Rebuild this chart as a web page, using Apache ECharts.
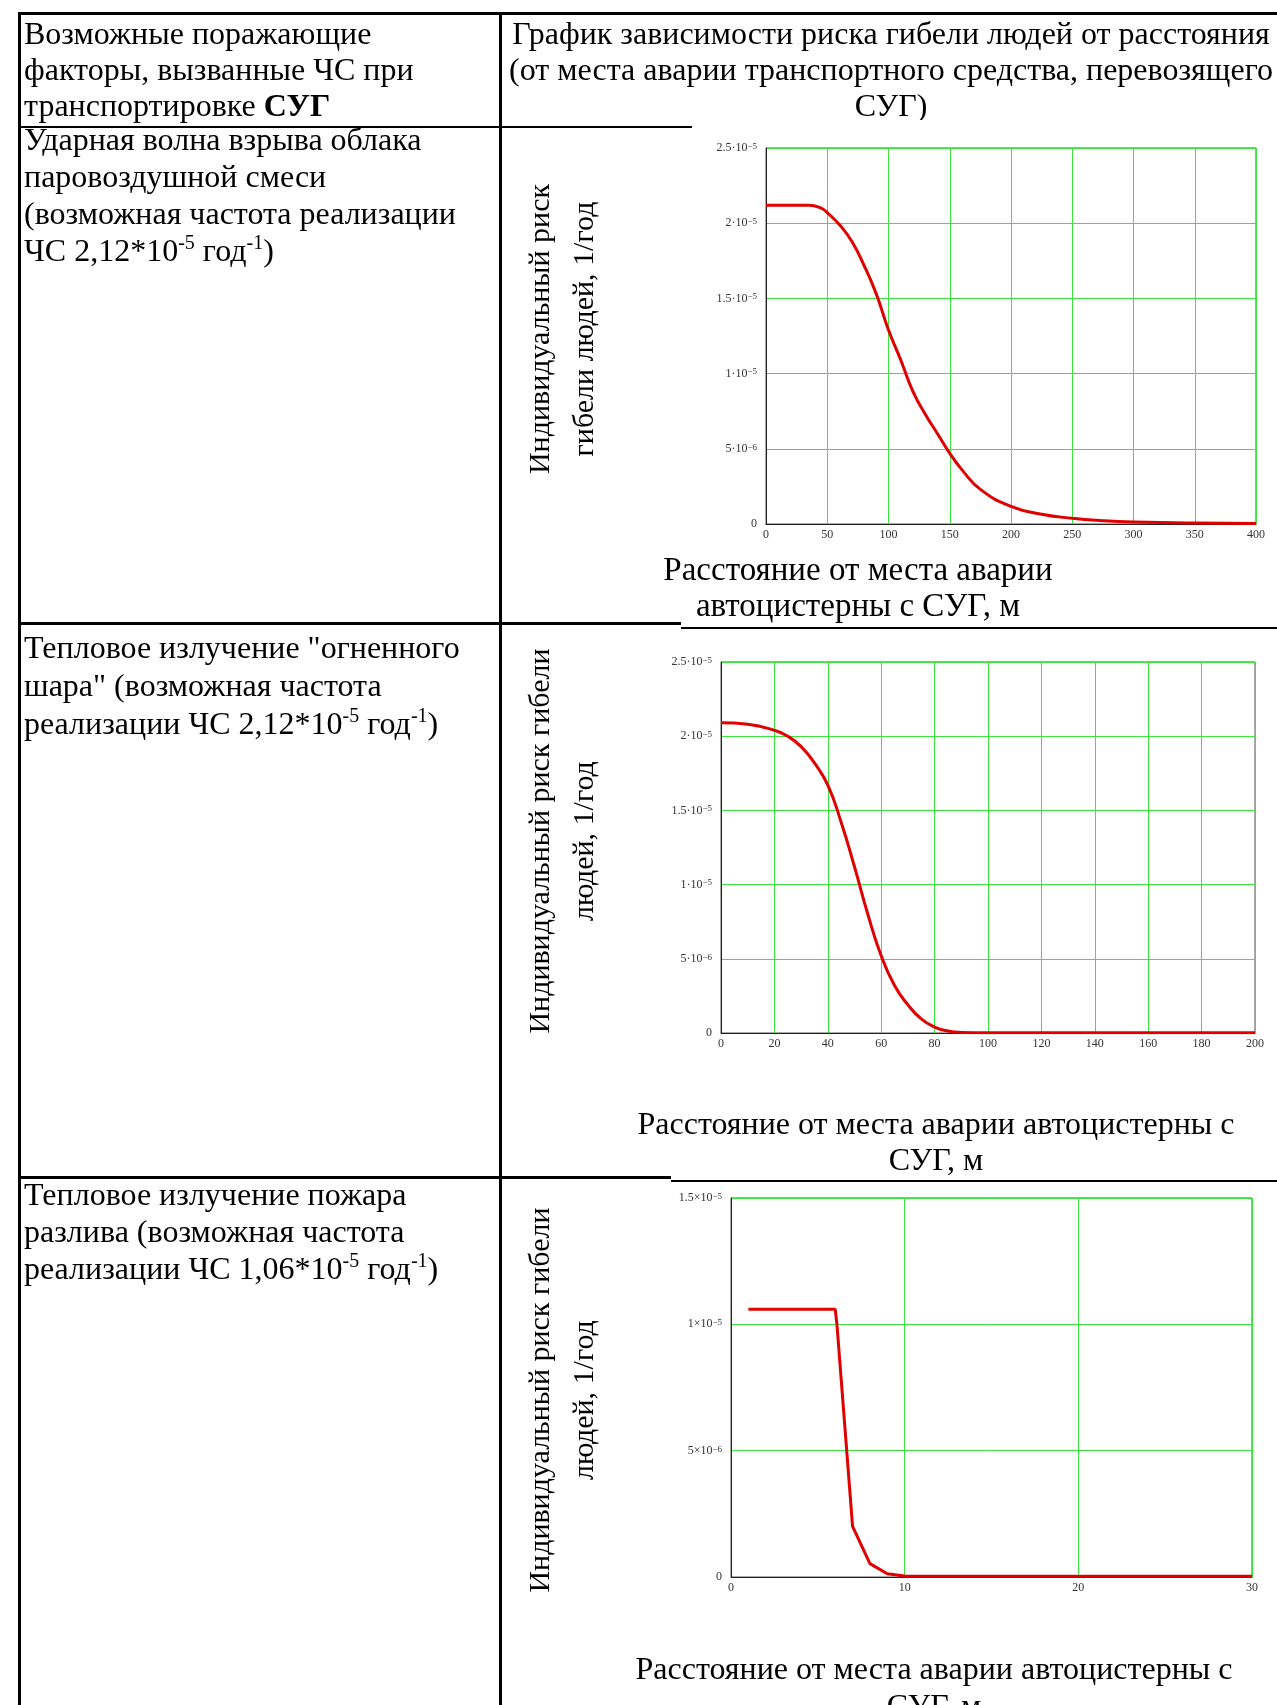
<!DOCTYPE html>
<html lang="ru">
<head>
<meta charset="utf-8">
<title>Риск гибели людей</title>
<script src="https://cdn.jsdelivr.net/npm/echarts/dist/echarts.min.js"></script>
<style>
  html, body { margin:0; padding:0; background:#fff; }
  body { width:1277px; height:1705px; position:relative; overflow:hidden;
         font-family:'Liberation Serif','Times New Roman',serif; color:#000; }
  #chart { position:absolute; left:0; top:0; width:1277px; height:1705px; z-index:0; }
  .t { position:absolute; font-size:32px; line-height:36px; white-space:nowrap; z-index:2; }
  .t sup { font-size:20px; line-height:0; vertical-align:12px; }
  .rl { position:absolute; background:#000; z-index:3; }
  .rot { position:absolute; font-size:30px; line-height:44px; white-space:nowrap; text-align:center;
         transform:rotate(-90deg); transform-origin:50% 50%; z-index:2; }
  .cover { position:absolute; background:#fff; z-index:4; }
</style>
</head>
<body>
<div id="chart"></div>
<script>
// ---------- DATA ----------
// Chart 1: ударная волна, расстояние (м) / индивидуальный риск (1/год)
const dist1 = [0, 20, 35, 45, 50, 60, 70, 80, 90, 100, 110, 120, 130, 140, 150, 160, 175, 200, 225, 250, 275, 300, 350, 400];
const risk1 = [2.12e-5, 2.12e-5, 2.12e-5, 2.10e-5, 2.07e-5, 1.99e-5, 1.88e-5, 1.72e-5, 1.53e-5, 1.29e-5, 1.09e-5, 0.88e-5,
               0.73e-5, 0.60e-5, 0.47e-5, 0.36e-5, 0.23e-5, 0.117e-5, 0.065e-5, 0.038e-5, 0.022e-5, 0.013e-5, 0.006e-5, 0.004e-5];
// Chart 2: огненный шар
const dist2 = [0, 10, 20, 25, 30, 35, 40, 45, 50, 55, 60, 65, 70, 75, 80, 85, 90, 100, 150, 200];
const risk2 = [2.09e-5, 2.08e-5, 2.04e-5, 2.00e-5, 1.93e-5, 1.82e-5, 1.67e-5, 1.42e-5, 1.12e-5, 0.80e-5, 0.52e-5, 0.32e-5,
               0.19e-5, 0.095e-5, 0.04e-5, 0.013e-5, 0.004e-5, 0.002e-5, 0.001e-5, 0.001e-5];
// Chart 3: пожар разлива
const dist3 = [1, 6, 6.1, 7, 8, 9, 10, 11, 30];
const risk3 = [1.06e-5, 1.06e-5, 1.0e-5, 0.2e-5, 0.053e-5, 0.013e-5, 0.004e-5, 0.003e-5, 0.003e-5];

// Tick labels: [mantissa, exponent]
const yLabels12 = [['0',''], ['5·10','−6'], ['1·10','−5'], ['1.5·10','−5'], ['2·10','−5'], ['2.5·10','−5']];
const yLabels3  = [['0',''], ['5×10','−6'], ['1×10','−5'], ['1.5×10','−5']];
const xMax = [400, 200, 30];
const xStep = [50, 20, 10];
const yMax = [2.5e-5, 2.5e-5, 1.5e-5];
const yStep = 5e-6;

// ---------- TEXTS ----------
const headerLeft  = ['Возможные поражающие', 'факторы, вызванные ЧС при', 'транспортировке <b>СУГ</b>'];
const headerRight = ['График зависимости риска гибели людей от расстояния',
                     '(от места аварии транспортного средства, перевозящего', 'СУГ)'];
const row1Left = ['Ударная волна взрыва облака', 'паровоздушной смеси', '(возможная частота реализации',
                  'ЧС 2,12*10<sup>-5</sup> год<sup>-1</sup>)'];
const row2Left = ['Тепловое излучение "огненного', 'шара" (возможная частота',
                  'реализации ЧС 2,12*10<sup>-5</sup> год<sup>-1</sup>)'];
const row3Left = ['Тепловое излучение пожара', 'разлива (возможная частота',
                  'реализации ЧС 1,06*10<sup>-5</sup> год<sup>-1</sup>)'];
const yTitle1 = ['Индивидуальный риск', 'гибели людей, 1/год'];
const yTitle23 = ['Индивидуальный риск гибели', 'людей, 1/год'];
const xTitle1 = ['Расстояние от места аварии', 'автоцистерны с СУГ, м'];
const xTitle23 = ['Расстояние от места аварии автоцистерны с', 'СУГ, м'];

// ---------- HTML table layer ----------
function addLines(lines, x, baselines, align, fs) {
  lines.forEach((s, i) => {
    const d = document.createElement('div');
    d.className = 't';
    d.innerHTML = s;
    if (fs) d.style.fontSize = fs + 'px';
    d.style.top = (baselines[i] - 29) + 'px';
    if (align === 'center') { d.style.left = (x - 600) + 'px'; d.style.width = '1200px'; d.style.textAlign = 'center'; }
    else { d.style.left = x + 'px'; }
    document.body.appendChild(d);
  });
}
function addRot(lines, cx, cy) {
  const d = document.createElement('div');
  d.className = 'rot';
  d.innerHTML = lines.join('<br>');
  const w = 500, h = 44 * lines.length;
  d.style.width = w + 'px'; d.style.height = h + 'px';
  d.style.left = (cx - w / 2) + 'px'; d.style.top = (cy - h / 2) + 'px';
  document.body.appendChild(d);
}
function rule(l, t, w, h, cls) {
  const d = document.createElement('div');
  d.className = cls || 'rl';
  d.style.left = l + 'px'; d.style.top = t + 'px'; d.style.width = w + 'px'; d.style.height = h + 'px';
  document.body.appendChild(d);
}
addLines(headerLeft, 24, [44, 80, 116]);
addLines(headerRight, 891, [44, 80, 116], 'center');
addLines(row1Left, 24, [150, 187, 224, 261]);
addLines(row2Left, 24, [658, 696, 734]);
addLines(row3Left, 24, [1205, 1242, 1279]);
addLines(xTitle1, 858, [580, 616], 'center', 33);
addLines(xTitle23, 936, [1134, 1170], 'center');
addLines(xTitle23, 934, [1679, 1716], 'center');
addRot(yTitle1, 561, 329);
addRot(yTitle23, 561, 841);
addRot(yTitle23, 561, 1400);
// borders
rule(18, 12, 1259, 3);
rule(18, 12, 3, 1693);
rule(499, 12, 3, 1693);
rule(18, 126, 674, 2);
rule(18, 622, 663, 3); rule(681, 627, 596, 2);
rule(18, 1176, 653, 3); rule(671, 1180, 606, 2);
rule(692, 120, 585, 6, 'cover');

// ---------- ECharts ----------
const FONT = "'Liberation Serif','Times New Roman',serif";
const grids = [
  { left: 766, top: 148, width: 490, height: 376 },
  { left: 721, top: 662, width: 534, height: 371 },
  { left: 731, top: 1198, width: 521, height: 379 }
];
const seriesData = [
  dist1.map((x, i) => [x, risk1[i]]),
  dist2.map((x, i) => [x, risk2[i]]),
  dist3.map((x, i) => [x, risk3[i]])
];
const yLab = [yLabels12, yLabels12, yLabels3];
const option = {
  backgroundColor: 'transparent',
  animation: false,
  grid: grids.map(g => Object.assign({ show: true, borderColor: '#555', borderWidth: 1, backgroundColor: '#fff' }, g)),
  xAxis: grids.map((g, k) => ({
    type: 'value', gridIndex: k, min: 0, max: xMax[k], interval: xStep[k],
    axisLine: { show: true, onZero: false, lineStyle: { color: '#222', width: 1 } },
    axisTick: { show: false },
    splitLine: { show: true, lineStyle: { color: '#3ee43e', width: 1 } },
    axisLabel: { fontFamily: FONT, fontSize: 12, color: '#333', margin: 5 }
  })),
  yAxis: grids.map((g, k) => ({
    type: 'value', gridIndex: k, min: 0, max: yMax[k], interval: yStep,
    axisLine: { show: true, onZero: false, lineStyle: { color: '#222', width: 1 } },
    axisTick: { show: false },
    splitLine: { show: true, lineStyle: { color: '#3ee43e', width: 1 } },
    axisLabel: {
      margin: 9,
      formatter: function (v) {
        const p = yLab[k][Math.round(v / yStep)];
        if (!p) return '';
        return p[1] ? '{m|' + p[0] + '}{e|' + p[1] + '}' : '{m|' + p[0] + '}';
      },
      rich: {
        m: { fontFamily: FONT, fontSize: 12, lineHeight: 12, color: '#333', verticalAlign: 'bottom' },
        e: { fontFamily: FONT, fontSize: 9, lineHeight: 9, color: '#333', verticalAlign: 'top', padding: [0, 0, 8, 0] }
      }
    }
  })),
  series: seriesData.map((d, k) => ({
    type: 'line', xAxisIndex: k, yAxisIndex: k, data: d,
    showSymbol: false, smooth: k < 2 ? 0.5 : false,
    lineStyle: { color: '#e00000', width: 3 }, z: 5
  }))
};
const chart = echarts.init(document.getElementById('chart'), null, { renderer: 'canvas' });
chart.setOption(option);
</script>
</body>
</html>
